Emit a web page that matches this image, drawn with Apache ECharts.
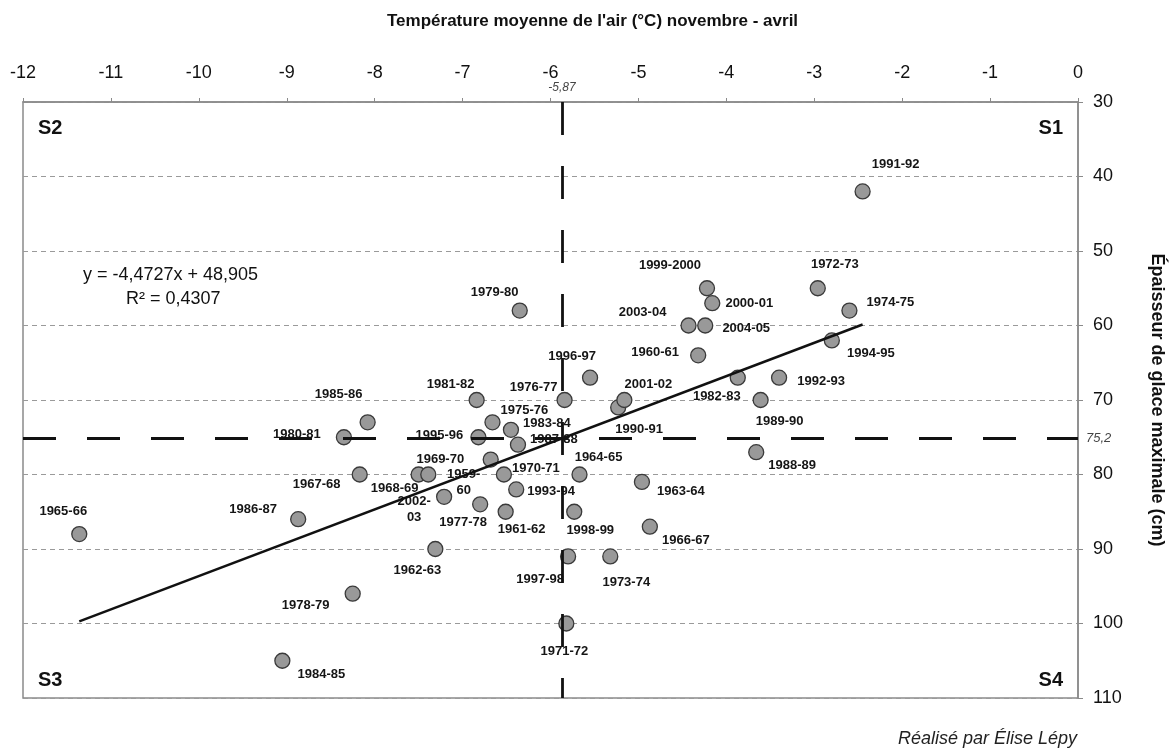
<!DOCTYPE html>
<html>
<head>
<meta charset="utf-8">
<script src="https://cdn.jsdelivr.net/npm/echarts@6/dist/echarts.min.js"></script>
<style>html,body{margin:0;padding:0;background:#fff}#c{width:1176px;height:749px}</style>
</head>
<body>
<div id="c"></div>
<script>
// ---- DATA ----
const seasons = ['1959-60','1960-61','1961-62','1962-63','1963-64','1964-65','1965-66','1966-67','1967-68','1968-69',
  '1969-70','1970-71','1971-72','1972-73','1973-74','1974-75','1975-76','1976-77','1977-78','1978-79',
  '1979-80','1980-81','1981-82','1982-83','1983-84','1984-85','1985-86','1986-87','1987-88','1988-89',
  '1989-90','1990-91','1991-92','1992-93','1993-94','1994-95','1995-96','1996-97','1997-98','1998-99',
  '1999-2000','2000-01','2001-02','2002-03','2003-04','2004-05'];
const temperature = [-6.68,-4.32,-6.51,-7.31,-4.96,-5.67,-11.36,-4.87,-8.17,-7.50,
  -7.39,-6.53,-5.82,-2.96,-5.32,-2.60,-6.66,-5.84,-6.80,-8.25,
  -6.35,-8.35,-6.84,-3.87,-6.45,-9.05,-8.08,-8.87,-6.37,-3.66,
  -3.61,-5.23,-2.45,-3.40,-6.39,-2.80,-6.82,-5.55,-5.80,-5.73,
  -4.22,-4.16,-5.16,-7.21,-4.43,-4.24];
const iceThickness = [78,64,85,90,81,80,88,87,80,80,
  80,80,100,55,91,58,73,70,84,96,
  58,75,70,67,74,105,73,86,76,77,
  70,71,42,67,82,62,75,67,91,85,
  55,57,70,83,60,60];
const xTicks = [-12,-11,-10,-9,-8,-7,-6,-5,-4,-3,-2,-1,0];
const yTicks = [30,40,50,60,70,80,90,100,110];
const meanTemperature = -5.87;
const meanIce = 75.2;
const trendSlope = -4.4727;
const trendIntercept = 48.905;
const rSquared = 0.4307;
const quadrants = ['S1','S2','S3','S4'];

// ---- STYLE: label placement (pixel offsets from point centre) ----
const labelOffsets = {
  '1991-92':[33,-27],'1972-73':[17,-24],'2000-01':[37,0],'1974-75':[41,-8],'2004-05':[41,3],
  '1994-95':[39,13],'1992-93':[42,4],'1989-90':[19,21],'1988-89':[36,13],'1982-83':[-21,19],
  '1999-2000':[-37,-23],'1979-80':[-25,-18],'2003-04':[-46,-13],'1960-61':[-43,-3],'1996-97':[-18,-21],
  '1981-82':[-26,-16],'1976-77':[-31,-13],'2001-02':[24,-16],'1990-91':[21,22],'1975-76':[32,-12],
  '1983-84':[36,-6],'1987-88':[36,-5],'1995-96':[-39,-2],'1964-65':[19,-17],'1969-70':[12,-15],
  '1959-60':[-27,23],'1968-69':[-24,14],'1970-71':[32,-6],'1985-86':[-29,-28],'1980-81':[-47,-3],
  '1965-66':[-16,-23],'1986-87':[-45,-10],'1967-68':[-43,10],'2002-03':[-30,13],'1962-63':[-18,21],
  '1978-79':[-47,12],'1984-85':[39,14],'1963-64':[39,9],'1966-67':[36,14],'1998-99':[16,19],
  '1997-98':[-28,23],'1973-74':[16,26],'1971-72':[-2,28],'1993-94':[35,2],'1961-62':[16,18],
  '1977-78':[-17,18]
};
const wrapped = {'1959-60':'1959-\n60','2002-03':'2002-\n03'};

const FONT = '"Liberation Sans", Arial, Helvetica, sans-serif';
const fmt = v => String(v).replace('.', ',');

const chart = echarts.init(document.getElementById('c'), null, {renderer:'canvas'});

const points = seasons.map((s,i) => ({
  name: s,
  value: [temperature[i], iceThickness[i]],
  label: { offset: labelOffsets[s] || [0,-16] }
}));
const xmin = Math.min(...temperature), xmax = Math.max(...temperature);
const trend = [xmin, xmax].map(x => [x, trendSlope * x + trendIntercept]);

chart.setOption({
  animation: false,
  backgroundColor: '#fff',
  textStyle: { fontFamily: FONT },
  title: {
    text: "Température moyenne de l'air (°C) novembre - avril",
    left: 382, top: 8,
    textStyle: { fontFamily: FONT, fontSize: 17, fontWeight: 'bold', color: '#111' }
  },
  grid: { left: 23, right: 98, top: 102, bottom: 51, show: true,
          outerBoundsMode: 'none', containLabel: false,
          borderColor: '#8a8a8a', borderWidth: 1.5, backgroundColor: 'transparent' },
  xAxis: {
    type: 'value', position: 'top',
    min: xTicks[0], max: xTicks[xTicks.length-1], interval: xTicks[1]-xTicks[0],
    axisLine: { show: true, lineStyle: { color: '#8a8a8a', width: 1.5 } },
    axisTick: { show: true, length: 4, lineStyle: { color: '#8a8a8a' } },
    splitLine: { show: false },
    axisLabel: { fontSize: 18, color: '#111', margin: 20, fontFamily: FONT }
  },
  yAxis: {
    type: 'value', position: 'right', inverse: true,
    min: yTicks[0], max: yTicks[yTicks.length-1], interval: yTicks[1]-yTicks[0],
    name: 'Épaisseur de glace maximale (cm)',
    nameLocation: 'middle', nameRotate: -90, nameGap: 70,
    nameTextStyle: { fontSize: 18, fontWeight: 'bold', color: '#111', fontFamily: FONT },
    axisLine: { show: true, lineStyle: { color: '#8a8a8a', width: 1.5 } },
    axisTick: { show: true, length: 5, lineStyle: { color: '#8a8a8a' } },
    splitLine: { show: true, lineStyle: { color: '#9a9a9a', width: 1, type: [5,4] } },
    axisLabel: { fontSize: 18, color: '#111', margin: 15, fontFamily: FONT }
  },
  series: [
    {
      type: 'scatter',
      data: points,
      symbol: 'circle', symbolSize: 15,
      itemStyle: { color: '#999999', borderColor: '#3a3a3a', borderWidth: 1.3, opacity: 1 },
      label: {
        show: true, position: 'inside',
        formatter: p => wrapped[p.name] || p.name,
        color: '#151515', fontWeight: 'bold', fontSize: 13, lineHeight: 16, opacity: 1,
        fontFamily: FONT, textBorderWidth: 0
      },
      emphasis: { disabled: true },
      silent: true,
      z: 2
    },
    {
      type: 'line',
      data: trend,
      symbol: 'none',
      lineStyle: { color: '#111', width: 2.5 },
      silent: true,
      z: 10,
      markLine: {
        symbol: 'none', silent: true, z: 11,
        lineStyle: { color: '#111', width: 2.8, type: [33,31] },
        data: [
          [ { coord: [meanTemperature, yTicks[0]],
              label: { show: true, position: 'start', formatter: fmt(meanTemperature),
                       fontStyle: 'italic', fontSize: 12, color: '#444', distance: 8, fontFamily: FONT } },
            { coord: [meanTemperature, yTicks[yTicks.length-1]] } ],
          [ { coord: [xTicks[0], meanIce],
              label: { show: true, position: 'end', formatter: fmt(meanIce),
                       fontStyle: 'italic', fontSize: 13, color: '#444', distance: 8, fontFamily: FONT } },
            { coord: [xTicks[xTicks.length-1], meanIce] } ]
        ]
      }
    }
  ],
  graphic: [
    { type: 'text', x: 83, y: 275, style: { text: 'y = ' + fmt(trendSlope) + 'x + ' + fmt(trendIntercept),
      font: '18px ' + FONT, fill: '#111', verticalAlign: 'middle' } },
    { type: 'text', x: 126, y: 299, style: { text: 'R² = ' + fmt(rSquared),
      font: '18px ' + FONT, fill: '#111', verticalAlign: 'middle' } },
    { type: 'text', x: 1063, y: 128, style: { text: quadrants[0], font: 'bold 20px ' + FONT, fill: '#111', align: 'right', verticalAlign: 'middle' } },
    { type: 'text', x: 38, y: 128, style: { text: quadrants[1], font: 'bold 20px ' + FONT, fill: '#111', align: 'left', verticalAlign: 'middle' } },
    { type: 'text', x: 38, y: 680, style: { text: quadrants[2], font: 'bold 20px ' + FONT, fill: '#111', align: 'left', verticalAlign: 'middle' } },
    { type: 'text', x: 1063, y: 680, style: { text: quadrants[3], font: 'bold 20px ' + FONT, fill: '#111', align: 'right', verticalAlign: 'middle' } },
    { type: 'text', x: 1077, y: 739, style: { text: 'Réalisé par Élise Lépy', font: 'italic 18px ' + FONT, fill: '#222', align: 'right', verticalAlign: 'middle' } }
  ]
});
</script>
</body>
</html>
